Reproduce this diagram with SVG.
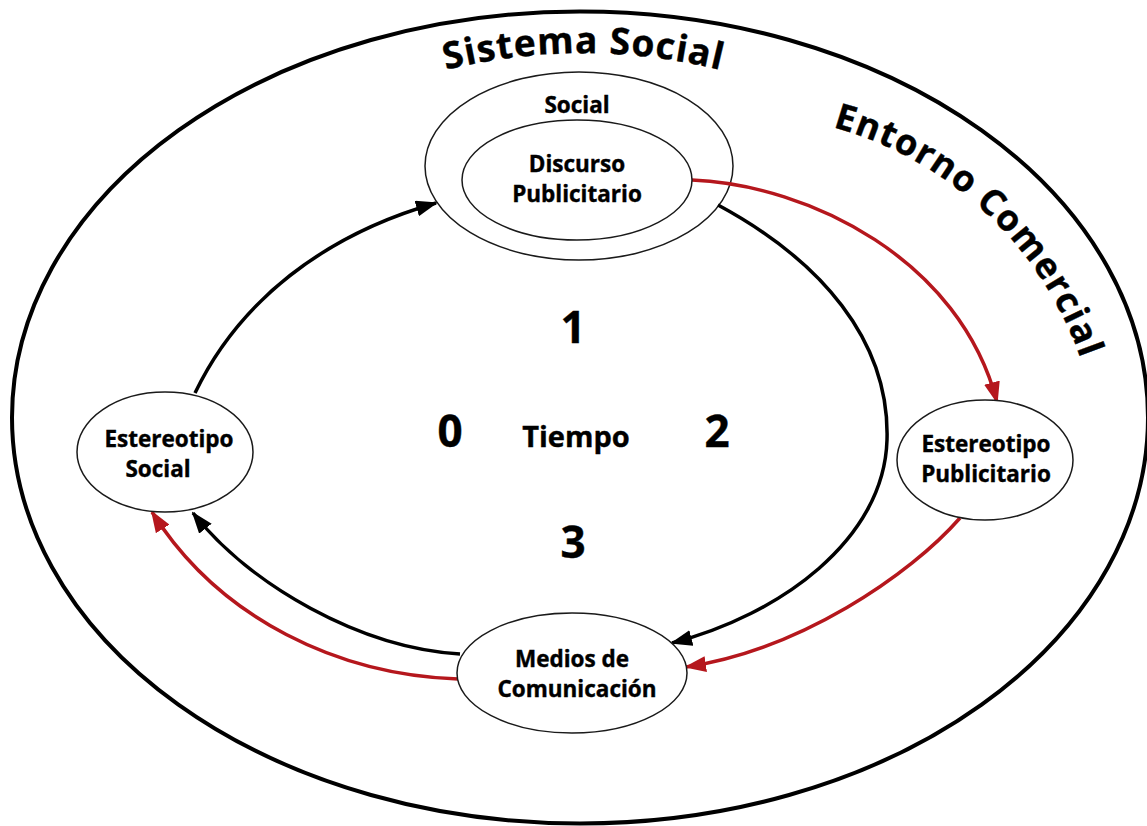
<svg xmlns="http://www.w3.org/2000/svg" width="1147" height="826" viewBox="0 0 1147 826">
<style>
.t{font-family:"Open Sans","Liberation Sans",sans-serif;font-weight:700;fill:#000;stroke:#000;stroke-width:0.4;text-anchor:middle}
.n{font-size:22.5px}
.node{fill:#fff;stroke:#1a1a1a;stroke-width:1.5}
.ring{fill:none;stroke:#1a1a1a;stroke-width:1.5}
.blk{fill:none;stroke:#000;stroke-width:3.5}
.red{fill:none;stroke:#b5171d;stroke-width:3.5}
</style>
<defs>
<marker id="ab" viewBox="0 0 22 16" refX="20" refY="8" markerWidth="22" markerHeight="16" markerUnits="userSpaceOnUse" orient="auto"><path d="M0,0 L22,8 L0,16 Z" fill="#000"/></marker>
<marker id="ar" viewBox="0 0 22 16" refX="20" refY="8" markerWidth="22" markerHeight="16" markerUnits="userSpaceOnUse" orient="auto"><path d="M0,0 L22,8 L0,16 Z" fill="#b5171d"/></marker>
<path id="arcTop" d="M297,130 A571,571 0 0 1 869,130"/>
<path id="arcRight" d="M736,114 A365,365 0 0 1 1101,479"/>
</defs>
<rect width="1147" height="826" fill="#fff"/>
<g id="sistema-social">
<ellipse cx="580" cy="417.5" rx="568" ry="406" fill="none" stroke="#000" stroke-width="4"/>
<text class="t" font-size="37"><textPath href="#arcTop" startOffset="50%" textLength="277" lengthAdjust="spacing">Sistema Social</textPath></text>
<text class="t" font-size="36" style="text-anchor:start"><textPath href="#arcRight" startOffset="98" textLength="352" lengthAdjust="spacing">Entorno Comercial</textPath></text>
</g>
<g id="social">
<ellipse class="ring" cx="579" cy="166" rx="154" ry="94"/>
<text class="t n" x="577" y="113">Social</text>
</g>
<g id="connectors">
<path class="blk" d="M195,393 C239,301 324,235 436,203" marker-end="url(#ab)"/>
<path class="blk" d="M718,205 C820,260 890,340 887,440 C884,540 780,615 672,643" marker-end="url(#ab)"/>
<path class="blk" d="M460,654 C360,648 250,585 193,513" marker-end="url(#ab)"/>
<path class="red" d="M692,180 C810,185 960,260 997,402" marker-end="url(#ar)"/>
<path class="red" d="M960,518 C910,575 800,650 686,667" marker-end="url(#ar)"/>
<path class="red" d="M458,679 C340,675 220,620 152,512" marker-end="url(#ar)"/>
</g>
<g id="discurso-publicitario">
<ellipse class="node" cx="577" cy="180" rx="115" ry="60"/>
<text class="t n" x="577" y="172">Discurso</text>
<text class="t n" x="577" y="202">Publicitario</text>
</g>
<g id="estereotipo-social">
<ellipse class="node" cx="165" cy="452" rx="88" ry="60"/>
<text class="t n" x="169" y="447">Estereotipo</text>
<text class="t n" x="158" y="477">Social</text>
</g>
<g id="estereotipo-publicitario">
<ellipse class="node" cx="985" cy="460" rx="88" ry="60"/>
<text class="t n" x="986" y="452">Estereotipo</text>
<text class="t n" x="986" y="482">Publicitario</text>
</g>
<g id="medios">
<ellipse class="node" cx="572" cy="673" rx="115" ry="60"/>
<text class="t n" x="572" y="667">Medios de</text>
<text class="t n" x="577" y="697">Comunicación</text>
</g>
<g id="tiempo">
<text class="t" x="576" y="447" font-size="29">Tiempo</text>
<text class="t" x="573" y="343" font-size="44">1</text>
<text class="t" x="450" y="447" font-size="44">0</text>
<text class="t" x="717" y="447" font-size="44">2</text>
<text class="t" x="573" y="558" font-size="44">3</text>
</g>
</svg>
